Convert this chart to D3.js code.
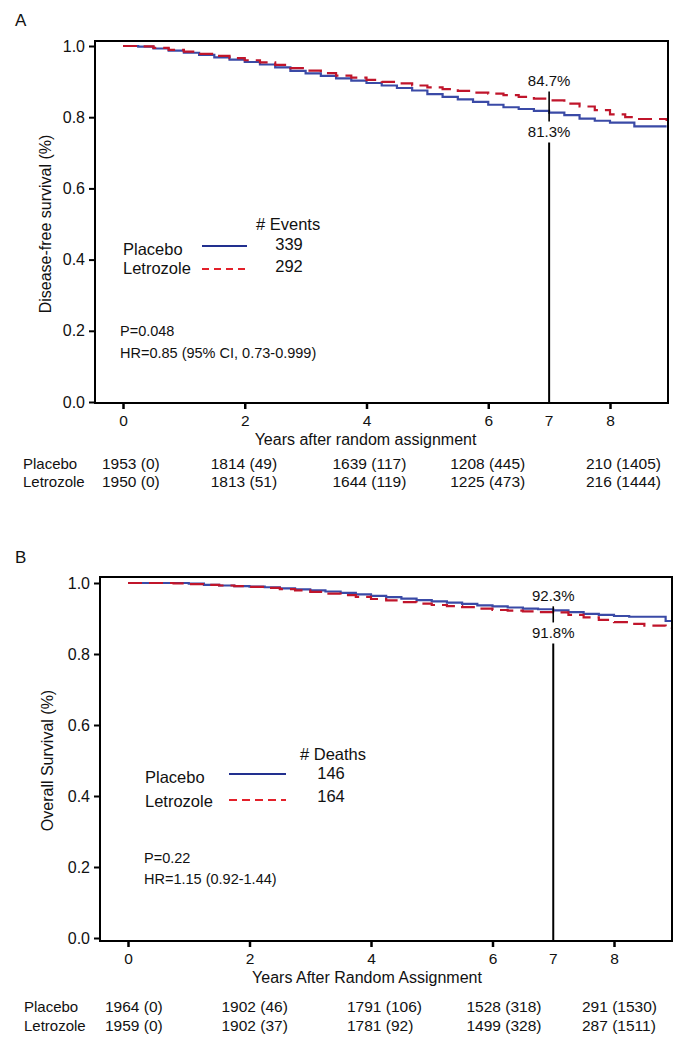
<!DOCTYPE html>
<html>
<head>
<meta charset="utf-8">
<script src="https://cdn.jsdelivr.net/npm/d3@7"></script>
<style>
  html, body { margin: 0; padding: 0; background: #fff; }
  svg { display: block; font-family: "Liberation Sans", Arial, sans-serif; }
  text { fill: #111; }
</style>
</head>
<body>
<svg id="chart" width="694" height="1050"></svg>
<script>
// ---------------- DATA ----------------
const groups = ["Placebo", "Letrozole"];
const xTicks = [0, 2, 4, 6, 8];
const yTicks = [0.0, 0.2, 0.4, 0.6, 0.8, 1.0];
const landmarkYear = 7;

// Panel A: disease-free survival
const timesA = [0, 0.25, 0.5, 0.75, 1.0, 1.25, 1.5, 1.75, 2.0, 2.25, 2.5, 2.75, 3.0, 3.25, 3.5, 3.75, 4.0, 4.25, 4.5, 4.75, 5.0, 5.25, 5.5, 5.75, 6.0, 6.25, 6.5, 6.75, 7.0, 7.25, 7.5, 7.75, 8.0, 8.25, 8.4, 8.93];
const placeboA = [1.0, 0.998, 0.993, 0.987, 0.981, 0.975, 0.968, 0.962, 0.955, 0.948, 0.940, 0.930, 0.923, 0.916, 0.909, 0.903, 0.896, 0.889, 0.882, 0.875, 0.865, 0.857, 0.850, 0.843, 0.835, 0.828, 0.823, 0.818, 0.813, 0.806, 0.796, 0.790, 0.785, 0.785, 0.774, 0.774];
const letrozoleA = [1.0, 0.999, 0.995, 0.989, 0.984, 0.978, 0.972, 0.966, 0.960, 0.954, 0.947, 0.938, 0.931, 0.924, 0.917, 0.911, 0.905, 0.899, 0.895, 0.889, 0.884, 0.879, 0.874, 0.869, 0.866, 0.862, 0.857, 0.852, 0.847, 0.838, 0.830, 0.820, 0.808, 0.800, 0.795, 0.789];
const eventsA = [339, 292];
const atRiskA = {
  Placebo:   ["1953 (0)", "1814 (49)", "1639 (117)", "1208 (445)", "210 (1405)"],
  Letrozole: ["1950 (0)", "1813 (51)", "1644 (119)", "1225 (473)", "216 (1444)"]
};
const landmarkA = ["84.7%", "81.3%"];
const statsA = ["P=0.048", "HR=0.85 (95% CI, 0.73-0.999)"];

// Panel B: overall survival
const timesB = [0, 0.25, 0.5, 0.75, 1.0, 1.25, 1.5, 1.75, 2.0, 2.25, 2.5, 2.75, 3.0, 3.25, 3.5, 3.75, 4.0, 4.25, 4.5, 4.75, 5.0, 5.25, 5.5, 5.75, 6.0, 6.25, 6.5, 6.75, 7.0, 7.25, 7.5, 7.75, 8.0, 8.25, 8.5, 8.85, 8.95];
const placeboB = [1.0, 1.0, 1.0, 1.0, 0.998, 0.995, 0.993, 0.991, 0.990, 0.988, 0.985, 0.982, 0.979, 0.976, 0.972, 0.968, 0.964, 0.960, 0.956, 0.952, 0.948, 0.945, 0.941, 0.937, 0.934, 0.931, 0.928, 0.926, 0.923, 0.918, 0.913, 0.910, 0.907, 0.905, 0.905, 0.893, 0.893];
const letrozoleB = [1.0, 1.0, 1.0, 0.999, 0.997, 0.995, 0.993, 0.991, 0.989, 0.986, 0.983, 0.979, 0.975, 0.970, 0.966, 0.961, 0.955, 0.951, 0.946, 0.942, 0.938, 0.935, 0.932, 0.928, 0.924, 0.922, 0.920, 0.918, 0.917, 0.910, 0.903, 0.896, 0.890, 0.885, 0.880, 0.874, 0.872];
const deathsB = [146, 164];
const atRiskB = {
  Placebo:   ["1964 (0)", "1902 (46)", "1791 (106)", "1528 (318)", "291 (1530)"],
  Letrozole: ["1959 (0)", "1902 (37)", "1781 (92)", "1499 (328)", "287 (1511)"]
};
const landmarkB = ["92.3%", "91.8%"];
const statsB = ["P=0.22", "HR=1.15 (0.92-1.44)"];

// ---------------- DRAW ----------------
const svg = d3.select("#chart");
const curveColors = { Placebo: "#3a4aa6", Letrozole: "#c0152b" };
const legendColors = { Placebo: "#22308f", Letrozole: "#e3202a" };

function panel(cfg) {
  const g = svg.append("g");
  const x = d3.scaleLinear().domain([0, 8]).range([cfg.x0, cfg.x8]);
  const y = d3.scaleLinear().domain([0, 1]).range([cfg.y0, cfg.y1]);

  g.append("text").attr("x", cfg.letterX).attr("y", cfg.letterY)
    .attr("font-size", 17).attr("dominant-baseline", "central").text(cfg.letter);

  const line = d3.line().x(d => x(d[0])).y(d => y(d[1])).curve(d3.curveStepAfter);
  const series = [
    { name: "Placebo", vals: cfg.placebo, dash: null },
    { name: "Letrozole", vals: cfg.letrozole, dash: "14,7" }
  ];
  series.forEach(s => {
    g.append("path")
      .datum(cfg.times.map((t, i) => [t, s.vals[i]]))
      .attr("fill", "none")
      .attr("stroke", curveColors[s.name])
      .attr("stroke-width", 2.2)
      .attr("stroke-dasharray", s.dash)
      .attr("d", line);
  });

  g.append("rect")
    .attr("x", cfg.boxL).attr("y", cfg.boxT)
    .attr("width", cfg.boxR - cfg.boxL).attr("height", cfg.boxB - cfg.boxT)
    .attr("fill", "none").attr("stroke", "#000").attr("stroke-width", 2);

  const yAxis = d3.axisLeft(y).tickValues(yTicks).tickFormat(d3.format(".1f")).tickSize(6).tickPadding(4);
  const ya = g.append("g").attr("transform", `translate(${cfg.boxL},0)`).call(yAxis);
  ya.select(".domain").remove();
  ya.selectAll(".tick line").attr("stroke", "#000").attr("stroke-width", 2);
  ya.selectAll(".tick text").attr("font-size", 16).attr("fill", "#111")
    .attr("font-family", "Liberation Sans, Arial, sans-serif");

  const xAxis = d3.axisBottom(x).tickValues(xTicks).tickFormat(d3.format("d")).tickSize(6).tickPadding(6);
  const xa = g.append("g").attr("transform", `translate(0,${cfg.boxB})`).call(xAxis);
  xa.select(".domain").remove();
  xa.selectAll(".tick line").attr("stroke", "#000").attr("stroke-width", 2.5);
  xa.selectAll(".tick text").attr("font-size", 15.5).attr("fill", "#111")
    .attr("font-family", "Liberation Sans, Arial, sans-serif");
  g.append("text").attr("x", x(landmarkYear)).attr("y", cfg.boxB + 17)
    .attr("text-anchor", "middle").attr("dominant-baseline", "central")
    .attr("font-size", 15.5).text(landmarkYear);

  g.append("text").attr("x", (cfg.x0 + cfg.x8) / 2 + cfg.xtitleDx).attr("y", cfg.boxB + 36)
    .attr("text-anchor", "middle").attr("dominant-baseline", "central")
    .attr("font-size", 16).text(cfg.xTitle);
  g.append("text")
    .attr("transform", `translate(${cfg.yTitleX},${y(0.5)}) rotate(-90)`)
    .attr("text-anchor", "middle").attr("dominant-baseline", "central")
    .attr("font-size", 16).text(cfg.yTitle);

  const lx = x(landmarkYear);
  const hi = Math.max(cfg.letrozoleAt7, cfg.placeboAt7);
  const lo = Math.min(cfg.letrozoleAt7, cfg.placeboAt7);
  g.append("text").attr("x", lx).attr("y", y(hi) - cfg.labGapTop)
    .attr("text-anchor", "middle").attr("dominant-baseline", "central")
    .attr("font-size", 15).text(cfg.landmark[0]);
  g.append("text").attr("x", lx).attr("y", y(lo) + cfg.labGapBot)
    .attr("text-anchor", "middle").attr("dominant-baseline", "central")
    .attr("font-size", 15).text(cfg.landmark[1]);
  g.append("line").attr("x1", lx).attr("x2", lx)
    .attr("y1", y(hi) - cfg.labGapTop + 11).attr("y2", y(lo) + cfg.labGapBot - 10)
    .attr("stroke", "#000").attr("stroke-width", 1.6);
  g.append("line").attr("x1", lx).attr("x2", lx)
    .attr("y1", y(lo) + cfg.labGapBot + 11).attr("y2", cfg.boxB)
    .attr("stroke", "#000").attr("stroke-width", 2);

  const L = cfg.legend;
  g.append("text").attr("x", L.headX).attr("y", L.headY)
    .attr("dominant-baseline", "central").attr("font-size", 16.5).text(L.head);
  groups.forEach((name, i) => {
    g.append("text").attr("x", L.labelX).attr("y", L.rowY[i])
      .attr("dominant-baseline", "central").attr("font-size", 16.5).text(name);
    g.append("line").attr("x1", L.lineX1).attr("x2", L.lineX2)
      .attr("y1", L.lineY[i]).attr("y2", L.lineY[i])
      .attr("stroke", legendColors[name]).attr("stroke-width", 2.2)
      .attr("stroke-dasharray", name === "Letrozole" ? L.dash : null);
    g.append("text").attr("x", L.numX).attr("y", L.numY[i])
      .attr("text-anchor", "middle").attr("dominant-baseline", "central")
      .attr("font-size", 16.5).text(L.nums[i]);
  });

  cfg.stats.forEach((s, i) => {
    g.append("text").attr("x", cfg.statsX).attr("y", cfg.statsY[i])
      .attr("dominant-baseline", "central").attr("font-size", 14.5).text(s);
  });

  groups.forEach((name, r) => {
    const rowY = cfg.riskY[r];
    g.append("text").attr("x", cfg.riskLabelX).attr("y", rowY)
      .attr("dominant-baseline", "central").attr("font-size", 15).text(name);
    cfg.atRisk[name].forEach((v, k) => {
      g.append("text").attr("x", x(xTicks[k]) + cfg.riskDx[k]).attr("y", rowY)
        .attr("text-anchor", "start").attr("dominant-baseline", "central")
        .attr("font-size", 15.5).text(v);
    });
  });
}

panel({
  letter: "A", letterX: 15, letterY: 20,
  x0: 123, x8: 610, y0: 402, y1: 46,
  boxL: 95, boxR: 668, boxT: 41, boxB: 403,
  times: timesA, placebo: placeboA, letrozole: letrozoleA,
  placeboAt7: 0.813, letrozoleAt7: 0.847,
  landmark: landmarkA, labGapTop: 20, labGapBot: 19,
  xTitle: "Years after random assignment", xtitleDx: -1,
  yTitle: "Disease-free survival (%)", yTitleX: 45,
  legend: {
    head: "# Events", headX: 256, headY: 224,
    labelX: 123, rowY: [249, 268],
    lineX1: 202, lineX2: 247, lineY: [246, 269], dash: "7,5",
    numX: 289, numY: [244, 266], nums: eventsA
  },
  stats: statsA, statsX: 120, statsY: [331, 353],
  riskLabelX: 23, riskY: [463, 481],
  atRisk: atRiskA, riskDx: [-21, -34, -34, -38, -24]
});

panel({
  letter: "B", letterX: 15, letterY: 557,
  x0: 128, x8: 614, y0: 938, y1: 583,
  boxL: 100, boxR: 672, boxT: 577, boxB: 941,
  times: timesB, placebo: placeboB, letrozole: letrozoleB,
  placeboAt7: 0.923, letrozoleAt7: 0.917,
  landmark: landmarkB, labGapTop: 15, labGapBot: 20,
  xTitle: "Years After Random Assignment", xtitleDx: -4,
  yTitle: "Overall Survival (%)", yTitleX: 47,
  legend: {
    head: "# Deaths", headX: 300, headY: 754,
    labelX: 145, rowY: [777, 801],
    lineX1: 229, lineX2: 286, lineY: [774, 800], dash: "8,5",
    numX: 331, numY: [773, 796], nums: deathsB
  },
  stats: statsB, statsX: 144, statsY: [858, 879],
  riskLabelX: 24, riskY: [1006, 1025],
  atRisk: atRiskB, riskDx: [-23, -28, -24, -26, -32]
});
</script>
</body>
</html>
